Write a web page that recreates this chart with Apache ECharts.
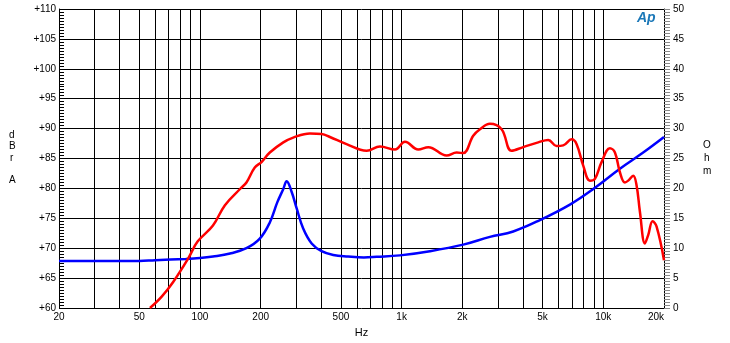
<!DOCTYPE html>
<html>
<head>
<meta charset="utf-8">
<script src="https://cdn.jsdelivr.net/npm/echarts@6/dist/echarts.min.js"></script>
<style>html,body{margin:0;padding:0;background:#fff}#c{width:730px;height:343px}</style>
</head>
<body>
<div id="c"></div>
<script>
// Frequency grid / labels (Hz)
var gridFreqs = [20,30,40,50,60,70,80,90,100,200,300,400,500,600,700,800,900,1000,2000,3000,4000,5000,6000,7000,8000,9000,10000,20000];
var labelFreqs = [20,50,100,200,500,1000,2000,5000,10000,20000];

// Red: level response (dBrA)
var redFreq = [56.5,64.6,73.8,87.5,97.3,116,133,158,170,187,202,222,259,290,351,401,441,533,671,781,927,1039,1209,1356,1672,1874,2021,2265,2446,2741,3131,3510,4009,4757,5333,5868,6330,6966,7375,7953,8584,9088,9806,10786,11420,12089,12800,13290,14070,14625,15190,16085,16700,17560,18380,20000];
var redDb = [60.0,61.9,64.4,68.3,71.1,73.8,77.2,79.9,81.0,83.5,84.4,86.0,87.7,88.5,89.2,89.1,88.6,87.4,86.3,87.0,86.5,87.8,86.5,86.9,85.5,86.0,85.9,88.8,89.9,90.8,89.9,86.3,86.9,87.7,88.1,87.1,87.2,88.2,87.4,83.8,81.3,81.6,84.4,86.7,86.0,82.7,81.0,81.3,82.1,80.5,76.1,70.8,72.2,74.5,73.6,68.0];

// Blue: impedance (Ohm)
var blueFreq = [20,50,60,85,100,116,141,170,198,222,242,259,269,285,302,325,358,401,458,543,650,752,981,1381,2021,2741,3575,4850,6832,8915,12089,15770,20000];
var blueOhm = [7.85,7.87,8.0,8.2,8.35,8.6,9.1,10.0,11.6,14.3,17.7,19.9,21.2,19.4,16.6,13.3,10.8,9.5,8.86,8.6,8.45,8.55,8.8,9.5,10.6,11.9,12.8,14.7,17.3,19.9,23.3,26.0,28.6];

function pairs(xs, ys){ return xs.map(function(x,i){ return [x, ys[i]]; }); }
function fmtHz(v){ return v >= 1000 ? (v/1000) + 'k' : String(v); }

var font = 'Liberation Sans, Arial, sans-serif';
var chart = echarts.init(document.getElementById('c'), null, {renderer:'canvas'});
chart.setOption({
  animation: false,
  backgroundColor: '#fff',
  grid: {left: 59, right: 66, top: 9, bottom: 33, containLabel: false},
  xAxis: {
    type: 'log', logBase: 10, min: 20, max: 20000,
    name: 'Hz', nameLocation: 'middle', nameGap: 19,
    nameTextStyle: {color:'#000', fontFamily: font, fontSize: 11},
    axisLine: {show: false},
    axisTick: {show: false, customValues: gridFreqs},
    axisLabel: {customValues: labelFreqs, formatter: fmtHz, color:'#000', fontFamily: font, fontSize: 10, margin: 4, alignMaxLabel: 'right'},
    splitLine: {show: true, lineStyle: {color:'#000', width: 1}},
    minorTick: {show: false}, minorSplitLine: {show: false}
  },
  yAxis: [{
    type: 'value', min: 60, max: 110, interval: 5, position: 'left',
    axisLine: {show: true, lineStyle: {color:'#000', width: 1}},
    axisTick: {show: true, inside: true, length: 5, lineStyle: {color:'#000'}},
    minorTick: {show: true, splitNumber: 10, length: 5, lineStyle: {color:'#000'}},
    axisLabel: {formatter: function(v){ return '+' + v; }, color:'#000', fontFamily: font, fontSize: 10, margin: 3},
    splitLine: {show: true, lineStyle: {color:'#000', width: 1}}
  }, {
    type: 'value', min: 0, max: 50, interval: 5, position: 'right',
    axisLine: {show: true, lineStyle: {color:'#000', width: 1}},
    axisTick: {show: true, inside: false, length: 6, lineStyle: {color:'#888'}},
    minorTick: {show: true, splitNumber: 10, length: 6, lineStyle: {color:'#888'}},
    axisLabel: {color:'#000', fontFamily: font, fontSize: 10, margin: 9},
    splitLine: {show: false}
  }],
  graphic: [
    {type:'text', left: 9, top: 130, style:{text:'d', fill:'#000', font:'10px ' + font}},
    {type:'text', left: 9, top: 141, style:{text:'B', fill:'#000', font:'10px ' + font}},
    {type:'text', left: 10, top: 153, style:{text:'r', fill:'#000', font:'10px ' + font}},
    {type:'text', left: 9, top: 175, style:{text:'A', fill:'#000', font:'10px ' + font}},
    {type:'text', left: 703, top: 140, style:{text:'O', fill:'#000', font:'10px ' + font}},
    {type:'text', left: 704, top: 153, style:{text:'h', fill:'#000', font:'10px ' + font}},
    {type:'text', left: 703, top: 166, style:{text:'m', fill:'#000', font:'10px ' + font}},
    {type:'text', left: 637, top: 11, style:{text:'Ap', fill:'#1b78b8', font:'italic bold 14px ' + font}}
  ],
  series: [{
    type: 'line', name: 'Impedance', yAxisIndex: 1, data: pairs(blueFreq, blueOhm),
    showSymbol: false, smooth: 0.4, lineStyle: {color:'#0000ff', width: 2.5}, z: 3
  }, {
    type: 'line', name: 'Level', yAxisIndex: 0, data: pairs(redFreq, redDb),
    showSymbol: false, smooth: 0.4, clip: true, lineStyle: {color:'#ff0000', width: 2.5}, z: 4
  }]
});
</script>
</body>
</html>
